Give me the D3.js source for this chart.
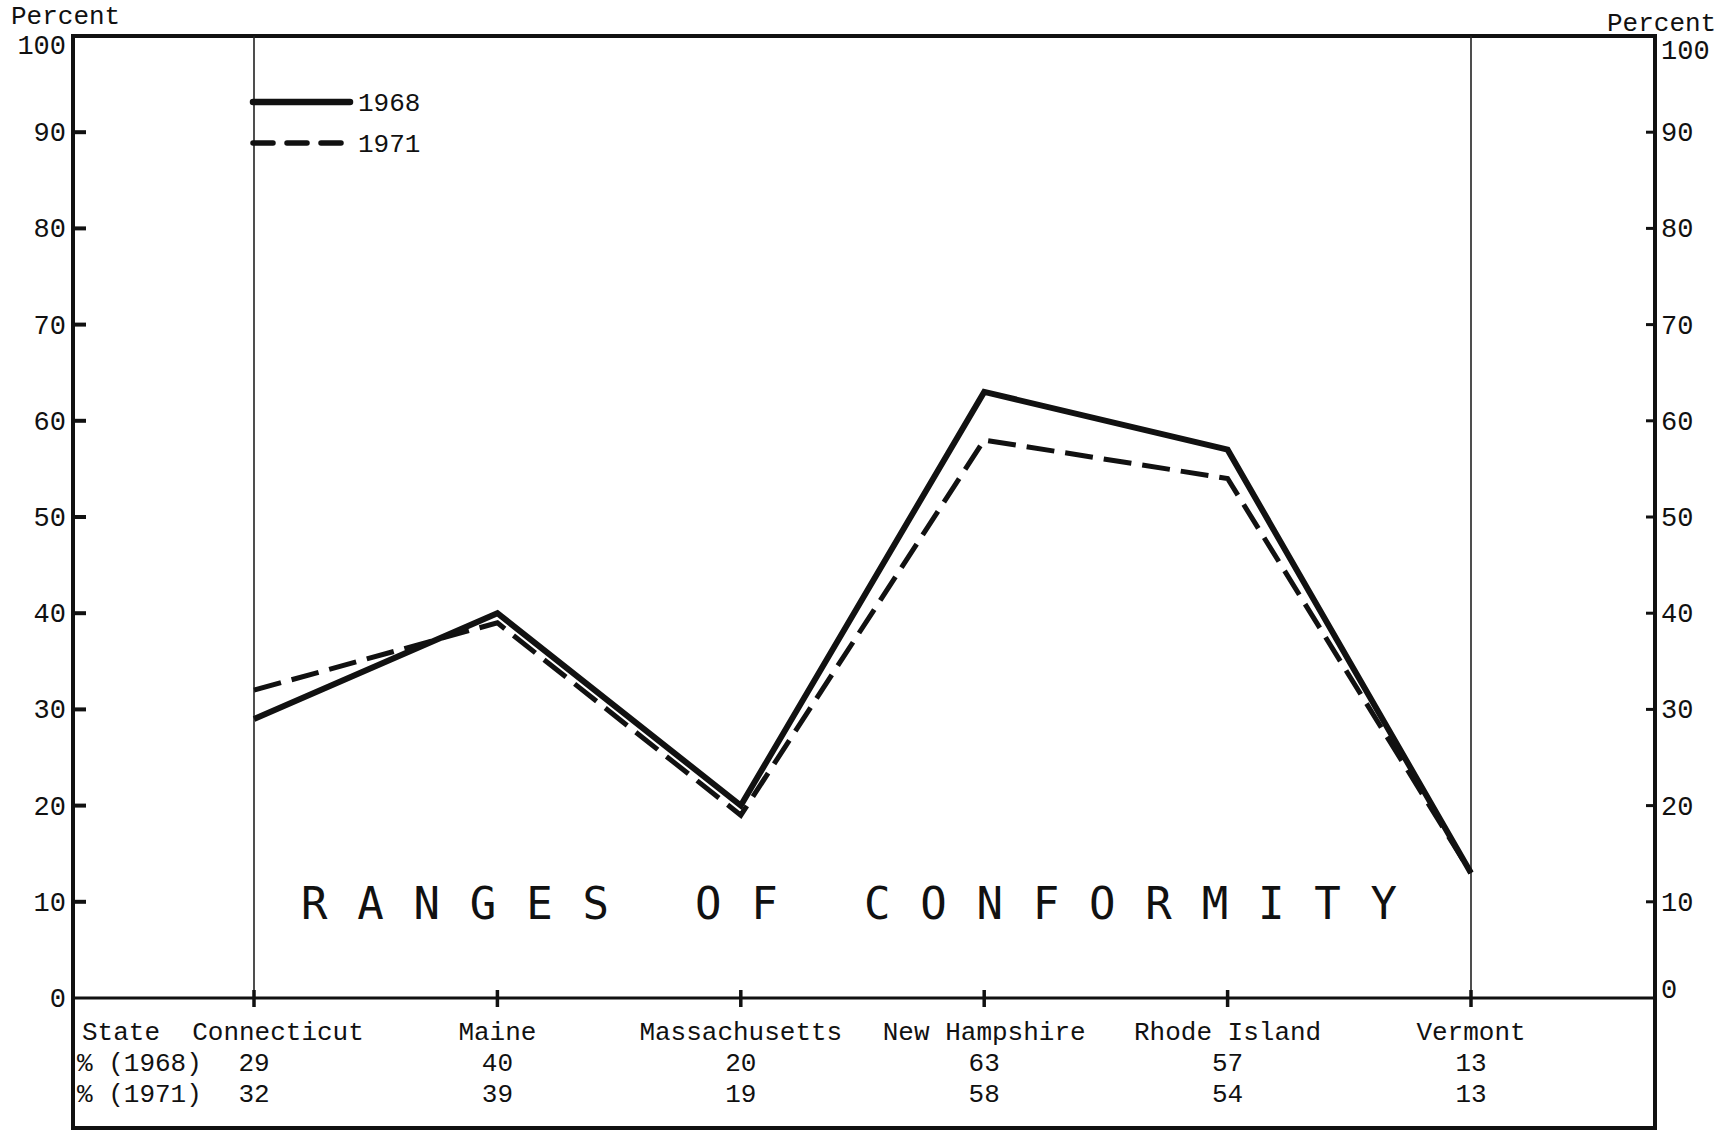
<html>
 <head>
  <title>Ranges of Conformity</title>
  <script src="https://d3js.org/d3.v7.min.js"></script>
  <style>
   body { margin:0; background:#fff; }
   text { font-family:"Liberation Mono","Courier New",monospace; fill:#111; }
  </style>
 </head>
 <body>
  <svg></svg>
  <script>
    var svgWidth=1731, svgHeight=1134;

    // data
    var states   = ["Connecticut","Maine","Massachusetts","New Hampshire","Rhode Island","Vermont"];
    var pct1968  = [29,40,20,63,57,13];
    var pct1971  = [32,39,19,58,54,13];
    var yTicks   = [0,10,20,30,40,50,60,70,80,90,100];
    var years    = ["1968","1971"];

    var svg = d3.select("svg")
                .attr("width",svgWidth)
                .attr("height",svgHeight)
                .style("background","#fff");

    var pLeft=73, pRight=1655, pTop=36, axisY=998, pBottom=1128;

    var x = d3.scalePoint().domain(states).range([254,1471]);
    var y = d3.scaleLinear().domain([0,100]).range([axisY,pTop]);

    // frame
    svg.append("rect").attr("x",pLeft).attr("y",pTop)
       .attr("width",pRight-pLeft).attr("height",pBottom-pTop)
       .attr("fill","none").attr("stroke","#111").attr("stroke-width",4);
    svg.append("line").attr("x1",pLeft).attr("x2",pRight).attr("y1",axisY).attr("y2",axisY)
       .attr("stroke","#111").attr("stroke-width",3);

    // thin verticals at first and last state
    svg.selectAll(".vguide").data([states[0],states[states.length-1]]).enter().append("line")
       .attr("class","vguide")
       .attr("x1",function(d){return x(d);}).attr("x2",function(d){return x(d);})
       .attr("y1",pTop).attr("y2",axisY)
       .attr("stroke","#222").attr("stroke-width",1.6);

    // state ticks on the base line
    svg.selectAll(".xtick").data(states).enter().append("line")
       .attr("x1",function(d){return x(d);}).attr("x2",function(d){return x(d);})
       .attr("y1",axisY-8).attr("y2",axisY+9)
       .attr("stroke","#111").attr("stroke-width",3.5);

    // y ticks both sides
    var inner = yTicks.filter(function(d){return d>0 && d<100;});
    svg.selectAll(".ltick").data(inner).enter().append("line")
       .attr("x1",pLeft).attr("x2",pLeft+13)
       .attr("y1",function(d){return y(d);}).attr("y2",function(d){return y(d);})
       .attr("stroke","#111").attr("stroke-width",4);
    svg.selectAll(".rtick").data(inner).enter().append("line")
       .attr("x1",pRight-9).attr("x2",pRight)
       .attr("y1",function(d){return y(d);}).attr("y2",function(d){return y(d);})
       .attr("stroke","#111").attr("stroke-width",3);

    svg.selectAll(".llab").data(yTicks).enter().append("text")
       .attr("x",66).attr("y",function(d){return y(d)+(d==100?18:9);})
       .attr("text-anchor","end").style("font-size","27px").text(function(d){return d;});
    svg.selectAll(".rlab").data(yTicks).enter().append("text")
       .attr("x",1661).attr("y",function(d){return y(d)+(d==100?23:(d==0?0:9));})
       .style("font-size","27px").text(function(d){return d;});

    svg.append("text").attr("x",11).attr("y",24).style("font-size","26px").text("Percent");
    svg.append("text").attr("x",1607).attr("y",31).style("font-size","26px").text("Percent");

    // series lines
    var line = d3.line().x(function(d){return x(d.state);}).y(function(d){return y(d.v);});
    var s1968 = states.map(function(s,i){return {state:s,v:pct1968[i]};});
    var s1971 = states.map(function(s,i){return {state:s,v:pct1971[i]};});

    svg.append("path").attr("d",line(s1971)).attr("fill","none")
       .attr("stroke","#111").attr("stroke-width",5).attr("stroke-dasharray","28,11");
    svg.append("path").attr("d",line(s1968)).attr("fill","none")
       .attr("stroke","#111").attr("stroke-width",6);

    // legend
    var leg = svg.append("g");
    leg.selectAll("line").data(years).enter().append("line")
       .attr("x1",253).attr("x2",350)
       .attr("y1",function(d,i){return 102+i*41;}).attr("y2",function(d,i){return 102+i*41;})
       .attr("stroke","#111").attr("stroke-width",function(d,i){return i==0?6.5:5.5;})
       .attr("stroke-linecap","round")
       .attr("stroke-dasharray",function(d,i){return i==0?null:"20,14";});
    leg.selectAll("text").data(years).enter().append("text")
       .attr("x",358).attr("y",function(d,i){return 111+i*41;})
       .style("font-size","26px").text(function(d){return d;});

    // big spaced title inside plot
    svg.append("text").attr("x",301).attr("y",919)
       .style("font-family","'DejaVu Sans Mono',monospace").style("font-size","44px")
       .style("letter-spacing","29.8px").text("RANGES OF CONFORMITY");

    // table under the chart
    var rows = [
      {label:"State", vals:states},
      {label:"% (1968)", vals:pct1968},
      {label:"% (1971)", vals:pct1971}
    ];
    rows.forEach(function(r,ri){
      var yy = 1040 + ri*31;
      svg.append("text").attr("x",ri==0?82:77).attr("y",yy).style("font-size","26px").text(r.label);
      svg.selectAll(".row"+ri).data(r.vals).enter().append("text")
         .attr("x",function(d,i){return x(states[i]) + (ri==0 && i==0 ? 24 : 0);})
         .attr("y",yy)
         .attr("text-anchor","middle").style("font-size","26px")
         .text(function(d){return d;});
    });
  </script>
 </body>
</html>
